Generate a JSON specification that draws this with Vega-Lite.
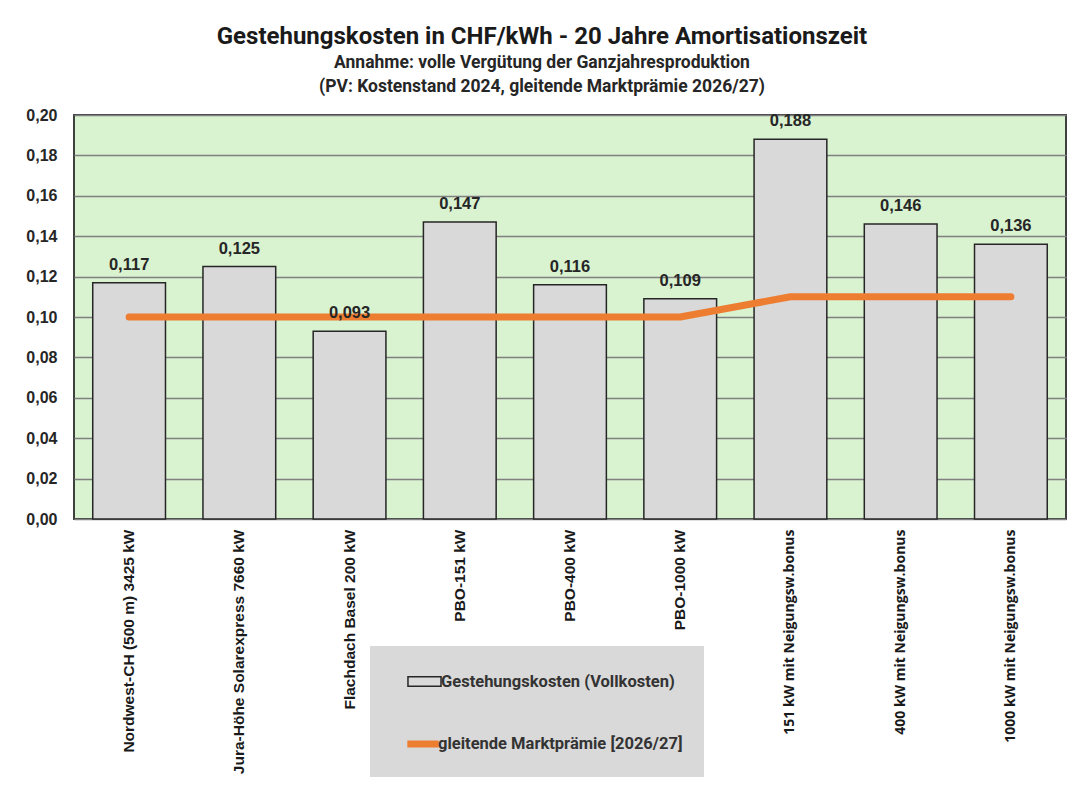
{
  "$schema": "https://vega.github.io/schema/vega-lite/v6.json",
  "autosize": {"type": "none"},
  "width": 992,
  "height": 404,
  "padding": {"left": 74, "top": 115, "right": 25, "bottom": 270},
  "background": "white",
  "title": {
    "text": "Gestehungskosten in CHF/kWh - 20 Jahre Amortisationszeit",
    "subtitle": ["Annahme: volle Vergütung der Ganzjahresproduktion", "(PV: Kostenstand 2024, gleitende Marktprämie 2026/27)"],
    "anchor": "middle",
    "frame": "group",
    "dx": -28,
    "offset": 12,
    "font": "Roboto",
    "fontSize": 24,
    "fontWeight": "bold",
    "color": "#1a1a1a",
    "subtitleFont": "Roboto",
    "subtitleFontSize": 17.5,
    "subtitleFontWeight": "bold",
    "subtitleColor": "#262626",
    "subtitleLineHeight": 24,
    "subtitlePadding": 5
  },
  "data": {
    "values": [
      {"cat": "Nordwest-CH (500 m) 3425 kW", "cost": 0.117, "premium": 0.10},
      {"cat": "Jura-Höhe Solarexpress 7660 kW", "cost": 0.125, "premium": 0.10},
      {"cat": "Flachdach Basel 200 kW", "cost": 0.093, "premium": 0.10},
      {"cat": "PBO-151 kW", "cost": 0.147, "premium": 0.10},
      {"cat": "PBO-400 kW", "cost": 0.116, "premium": 0.10},
      {"cat": "PBO-1000 kW", "cost": 0.109, "premium": 0.10},
      {"cat": "151 kW mit Neigungsw.bonus", "cost": 0.188, "premium": 0.11},
      {"cat": "400 kW mit Neigungsw.bonus", "cost": 0.146, "premium": 0.11},
      {"cat": "1000 kW mit Neigungsw.bonus", "cost": 0.136, "premium": 0.11}
    ]
  },
  "encoding": {
    "x": {
      "field": "cat",
      "type": "nominal",
      "sort": null,
      "scale": {"paddingInner": 0.34, "paddingOuter": 0.17},
      "axis": {
        "title": null,
        "labelAngle": -90,
        "labelAlign": "right",
        "labelBaseline": "middle",
        "labelPadding": 10,
        "labelFontSize": {"condition": {"test": "indexof(datum.value, 'Neigungsw') >= 0", "value": 14}, "value": 15.5},
        "labelFontWeight": "bold",
        "labelFont": {"condition": {"test": "indexof(datum.value, 'Neigungsw') >= 0", "value": "Open Sans"}, "value": "Liberation Sans"},
        "labelColor": "#1a1a1a",
        "labelLimit": 300,
        "ticks": false,
        "domain": false,
        "grid": false
      }
    }
  },
  "layer": [
    {
      "mark": {"type": "bar", "stroke": "#262626", "strokeWidth": 1.5},
      "encoding": {
        "y": {
          "field": "cost",
          "type": "quantitative",
          "scale": {"domain": [0, 0.2], "nice": false},
          "axis": {
            "title": null,
            "values": [0, 0.02, 0.04, 0.06, 0.08, 0.1, 0.12, 0.14, 0.16, 0.18, 0.2],
            "labelExpr": "replace(format(datum.value, '.2f'), '.', ',')",
            "labelFont": "Liberation Sans",
            "labelFontSize": 16,
            "labelFontWeight": "bold",
            "labelColor": "#262626",
            "labelPadding": 17,
            "ticks": false,
            "domain": false,
            "grid": true,
            "gridColor": "#808080",
            "gridWidth": 1.5
          }
        },
        "fill": {
          "datum": "Gestehungskosten  (Vollkosten)",
          "scale": {"range": ["#d9d9d9"]},
          "legend": {
            "title": " ",
            "titleOrient": "bottom",
            "titleFontSize": 10,
            "titlePadding": 52,
            "orient": "none",
            "legendX": 296,
            "legendY": 531,
            "fillColor": "#d9d9d9",
            "padding": 25,
            "symbolOffset": 19,
            "symbolSize": 361,
            "symbolType": "M-1.74,-0.5H1.74V0.5H-1.74Z",
            "symbolStrokeColor": "#262626",
            "symbolStrokeWidth": 1.5,
            "symbolOpacity": 1,
            "labelOffset": 6,
            "labelFont": "Roboto",
            "labelFontSize": 16.5,
            "labelFontWeight": "bold",
            "labelColor": "#333333",
            "labelLimit": 400
          }
        }
      }
    },
    {
      "mark": {"type": "line", "strokeWidth": 7, "strokeCap": "round", "strokeJoin": "round"},
      "encoding": {
        "y": {"field": "premium", "type": "quantitative"},
        "stroke": {
          "datum": "gleitende Marktprämie [2026/27]",
          "scale": {"range": ["#ed7d31"]},
          "legend": {
            "title": null,
            "orient": "none",
            "legendX": 336,
            "legendY": 616,
            "padding": 0,
            "zindex": 2,
            "symbolOffset": 0,
            "symbolSize": 361,
            "symbolType": "M-1.65,0H1.65",
            "symbolStrokeWidth": 7,
            "symbolOpacity": 1,
            "labelOffset": 2,
            "labelFont": "Roboto",
            "labelFontSize": 16.5,
            "labelFontWeight": "bold",
            "labelColor": "#333333",
            "labelLimit": 400
          }
        }
      }
    },
    {
      "mark": {
        "type": "text",
        "dy": -13,
        "baseline": "alphabetic",
        "font": "Liberation Sans",
        "fontSize": 16.5,
        "fontWeight": "bold",
        "color": "#262626"
      },
      "encoding": {
        "y": {"field": "cost", "type": "quantitative"},
        "text": {"field": "cost", "type": "quantitative", "format": ".3f"}
      }
    }
  ],
  "config": {
    "font": "Liberation Sans",
    "locale": {"number": {"decimal": ",", "thousands": "'", "grouping": [3], "currency": ["", " CHF"]}},
    "view": {"fill": "#d9f2d0", "stroke": "#404040", "strokeWidth": 2}
  }
}
